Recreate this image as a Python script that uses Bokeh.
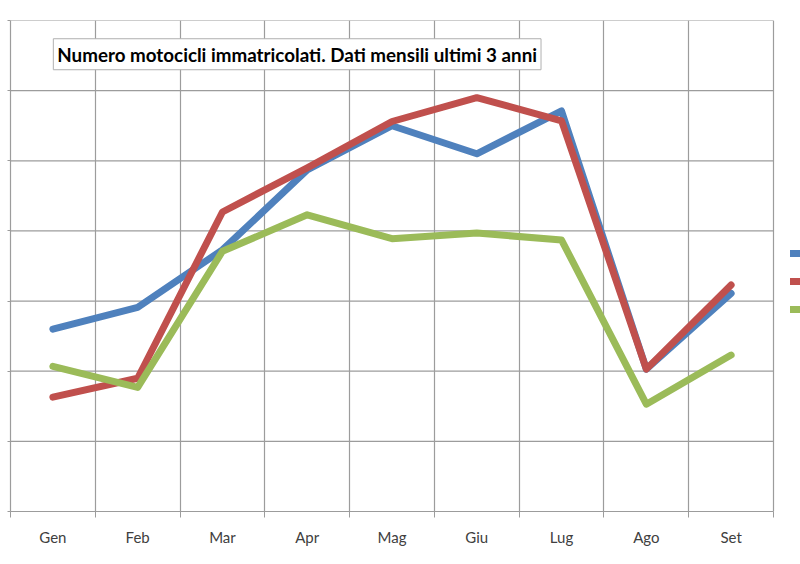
from bokeh.plotting import figure
from bokeh.models import FixedTicker, Range1d, Label, Legend, LegendItem
from bokeh.embed import file_html
from bokeh.resources import INLINE

months = ["Gen", "Feb", "Mar", "Apr", "Mag", "Giu", "Lug", "Ago", "Set"]
serie_blu = [2.60, 2.91, 3.73, 4.87, 5.50, 5.10, 5.71, 2.03, 3.11]
serie_rossa = [1.63, 1.90, 4.27, 4.90, 5.56, 5.90, 5.57, 2.03, 3.23]
serie_verde = [2.07, 1.77, 3.71, 4.23, 3.89, 3.97, 3.87, 1.53, 2.23]
y_ticks = [0, 1, 2, 3, 4, 5, 6, 7]
colori = ["#4F81BD", "#C0504D", "#9BBB59"]
titolo = "Numero motocicli immatricolati. Dati mensili ultimi 3 anni"

n = len(months)
xs = [i + 0.5 for i in range(n)]

# frame spans to the right edge so the (cut) legend keys can show there;
# the category area occupies 763 of the 790 frame pixels
x_end = n * 790 / 763

p = figure(width=800, height=564, output_backend="svg", toolbar_location=None,
           x_range=Range1d(0, x_end), y_range=Range1d(0, max(y_ticks)),
           min_border_left=10, min_border_right=0, min_border_top=20, min_border_bottom=53)
p.outline_line_color = None
p.background_fill_color = "white"
p.border_fill_color = "white"

grid_col = "#9c9c9c"
p.xgrid.ticker = FixedTicker(ticks=list(range(n + 1)))
p.xgrid.grid_line_color = grid_col
p.xgrid.grid_line_width = 1.2
p.ygrid.visible = False
p.segment(x0=[0] * len(y_ticks), x1=[n] * len(y_ticks), y0=y_ticks, y1=y_ticks,
          line_color=grid_col, line_width=1.2)

xa = p.xaxis[0]
xa.bounds = (0, n)
xa.ticker = FixedTicker(ticks=xs, minor_ticks=list(range(n + 1)))
xa.major_label_overrides = {x: m for x, m in zip(xs, months)}
xa.major_tick_out = 0
xa.major_tick_in = 0
xa.minor_tick_out = 6
xa.minor_tick_in = 0
xa.minor_tick_line_color = grid_col
xa.axis_line_color = grid_col
xa.axis_line_width = 1.2
xa.major_label_standoff = 10
xa.major_label_text_font = "Lato"
xa.major_label_text_font_size = "15px"
xa.major_label_text_color = "#404040"

ya = p.yaxis[0]
ya.ticker = FixedTicker(ticks=[], minor_ticks=y_ticks)
ya.major_label_standoff = 0
ya.major_tick_out = 0
ya.major_tick_in = 0
ya.minor_tick_out = 3
ya.minor_tick_in = 0
ya.minor_tick_line_color = grid_col
ya.axis_line_color = grid_col
ya.axis_line_width = 1.2

renderers = []
for vals, col in zip([serie_blu, serie_rossa, serie_verde], colori):
    r = p.line(xs, vals, line_color=col, line_width=7, line_join="round", line_cap="round")
    renderers.append(r)

legend = Legend(items=[LegendItem(label=" ", renderers=[r]) for r in renderers],
                location=(780, 192), padding=0, margin=0, spacing=8,
                glyph_width=30, glyph_height=20, border_line_color=None,
                background_fill_alpha=0, label_text_font_size="13px", label_standoff=0)
p.add_layout(legend, "center")

lab = Label(x=0.505, y=6.74, text=titolo, text_align="left", text_baseline="top",
            text_font="Lato", text_font_style="bold", text_font_size="18.8px",
            text_color="black", padding=4,
            border_line_color="#b0b0b0", border_line_width=1,
            background_fill_color="white")
p.add_layout(lab)

open("out.html", "w").write(file_html(p, INLINE))
